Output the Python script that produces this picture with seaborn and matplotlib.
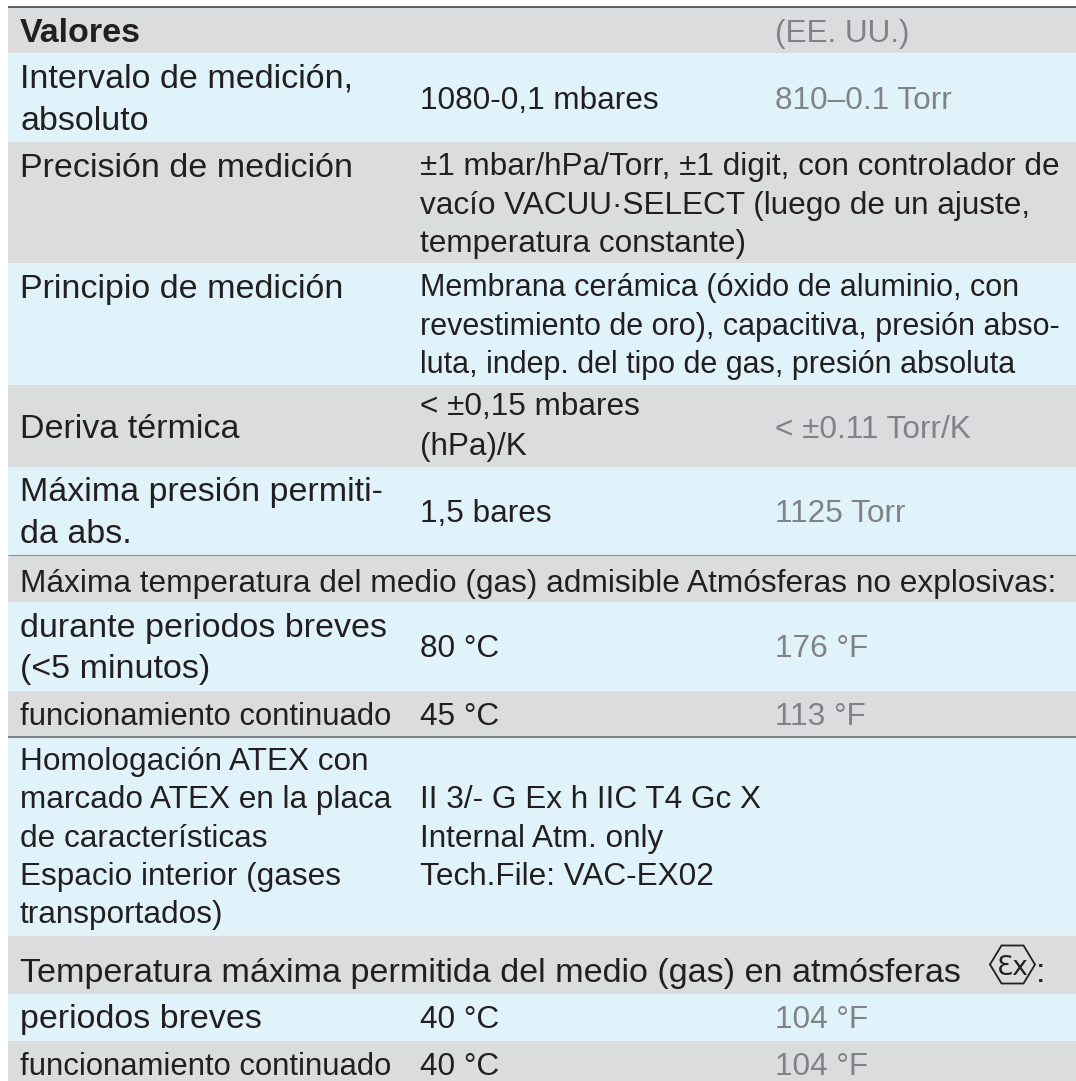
import matplotlib
matplotlib.use("Agg")
import matplotlib.pyplot as plt
import pandas as pd
import seaborn as sns

sns.set_theme(style="white")
plt.rcParams['font.family'] = ['Liberation Sans', 'DejaVu Sans']

GREY = "#DBDCDE"
BLUE = "#E0F3FB"
INK = "#231F20"
MUTED = "#808285"

row_names = ["Valores", "Intervalo", "Precisión", "Principio", "Deriva", "Presión",
             "Temp. medio", "Breves", "Continuado", "ATEX", "Temp. Ex", "Periodos", "Continuo"]
row_edges = [7, 53, 142, 263, 385, 467, 555, 602, 691, 738, 936, 994, 1041, 1081]
row_colors = [GREY, BLUE, GREY, BLUE, GREY, BLUE, GREY, BLUE, GREY, BLUE, GREY, BLUE, GREY]

# (text, x, baseline y, size, colour, weight)
L, V, R = 20, 420, 775
LS, VS, PS = 24.5, 22.7, 22.0
cells = [
    ("Valores", L, 42, LS, INK, "bold"),
    ("(EE. UU.)", R, 42, VS, MUTED, "normal"),
    ("Intervalo de medición,", L, 88, LS, INK, "normal"),
    ("absoluto", L, 130, LS, INK, "normal"),
    ("1080-0,1 mbares", V, 109, VS, INK, "normal"),
    ("810–0.1 Torr", R, 109, VS, MUTED, "normal"),
    ("Precisión de medición", L, 177, LS, INK, "normal"),
    ("±1 mbar/hPa/Torr, ±1 digit, con controlador de", V, 175, VS, INK, "normal"),
    ("vacío VACUU·SELECT (luego de un ajuste,", V, 214, VS, INK, "normal"),
    ("temperatura constante)", V, 252, VS, INK, "normal"),
    ("Principio de medición", L, 298, LS, INK, "normal"),
    ("Membrana cerámica (óxido de aluminio, con", V, 296, PS, INK, "normal"),
    ("revestimiento de oro), capacitiva, presión abso-", V, 335, PS, INK, "normal"),
    ("luta, indep. del tipo de gas, presión absoluta", V, 373, PS, INK, "normal"),
    ("Deriva térmica", L, 438, LS, INK, "normal"),
    ("< ±0,15 mbares", V, 415, VS, INK, "normal"),
    ("(hPa)/K", V, 455, VS, INK, "normal"),
    ("< ±0.11 Torr/K", R, 438, VS, MUTED, "normal"),
    ("Máxima presión permiti-", L, 501, LS, INK, "normal"),
    ("da abs.", L, 543, LS, INK, "normal"),
    ("1,5 bares", V, 522, VS, INK, "normal"),
    ("1125 Torr", R, 522, VS, MUTED, "normal"),
    ("Máxima temperatura del medio (gas) admisible Atmósferas no explosivas:", L, 592, 22.75, INK, "normal"),
    ("durante periodos breves", L, 637, LS, INK, "normal"),
    ("(<5 minutos)", L, 678, LS, INK, "normal"),
    ("80 °C", V, 657, VS, INK, "normal"),
    ("176 °F", R, 657, VS, MUTED, "normal"),
    ("funcionamiento continuado", L, 725, 22.3, INK, "normal"),
    ("45 °C", V, 725, VS, INK, "normal"),
    ("113 °F", R, 725, VS, MUTED, "normal"),
    ("Homologación ATEX con", L, 770, VS, INK, "normal"),
    ("marcado ATEX en la placa", L, 808, VS, INK, "normal"),
    ("de características", L, 847, VS, INK, "normal"),
    ("Espacio interior (gases", L, 885, VS, INK, "normal"),
    ("transportados)", L, 923, VS, INK, "normal"),
    ("II 3/- G Ex h IIC T4 Gc X", V, 808, VS, INK, "normal"),
    ("Internal Atm. only", V, 847, VS, INK, "normal"),
    ("Tech.File: VAC-EX02", V, 885, VS, INK, "normal"),
    ("Temperatura máxima permitida del medio (gas) en atmósferas", L, 982, 24.6, INK, "normal"),
    (":", 1036, 982, 24.6, INK, "normal"),
    ("periodos breves", L, 1028, LS, INK, "normal"),
    ("40 °C", V, 1028, VS, INK, "normal"),
    ("104 °F", R, 1028, VS, MUTED, "normal"),
    ("funcionamiento continuado", L, 1075, 22.3, INK, "normal"),
    ("40 °C", V, 1075, VS, INK, "normal"),
    ("104 °F", R, 1075, VS, MUTED, "normal"),
]

fig = plt.figure(figsize=(10.76, 10.81), dpi=100)
ax = fig.add_axes([0, 0, 1, 1])

df = pd.DataFrame({"fila": row_names, "ancho": [1068] * len(row_names)})
sns.barplot(data=df, y="fila", x="ancho", hue="fila", palette=row_colors, hue_order=row_names,
            legend=False, orient="h", width=1, ax=ax, saturation=1, left=8)
bars = [p for c in ax.containers for p in c]
for bar, top, bottom in zip(bars, row_edges[:-1], row_edges[1:]):
    bar.set_y(top)
    bar.set_height(bottom - top)
    bar.set_linewidth(0)

ax.set_xlim(0, 1076)
ax.set_ylim(1081, 0)
ax.axis("off")

ax.hlines(6.5, 8, 1076, color="#3A3839", lw=1.1)
ax.hlines(555, 8, 1076, color="#939598", lw=0.8)
ax.hlines(737, 8, 1076, color="#77787B", lw=1.3)

for text, x, y, size, color, weight in cells:
    ax.text(x, y, text, fontsize=size, color=color, fontweight=weight, va="baseline", ha="left")

# Ex mark
cx, cy = 1012.5, 964.5
hx = [cx - 22.5, cx - 11, cx + 11, cx + 22.5, cx + 11, cx - 11, cx - 22.5]
hy = [cy, cy - 19, cy - 19, cy, cy + 19, cy + 19, cy]
ax.plot(hx, hy, color=INK, lw=1.3, solid_joinstyle="miter")
ax.text(cx, 975, "Ɛx", fontsize=19, color=INK, ha="center", va="baseline",
        family=["DejaVu Sans"])

fig.savefig("out.png", dpi=100)
